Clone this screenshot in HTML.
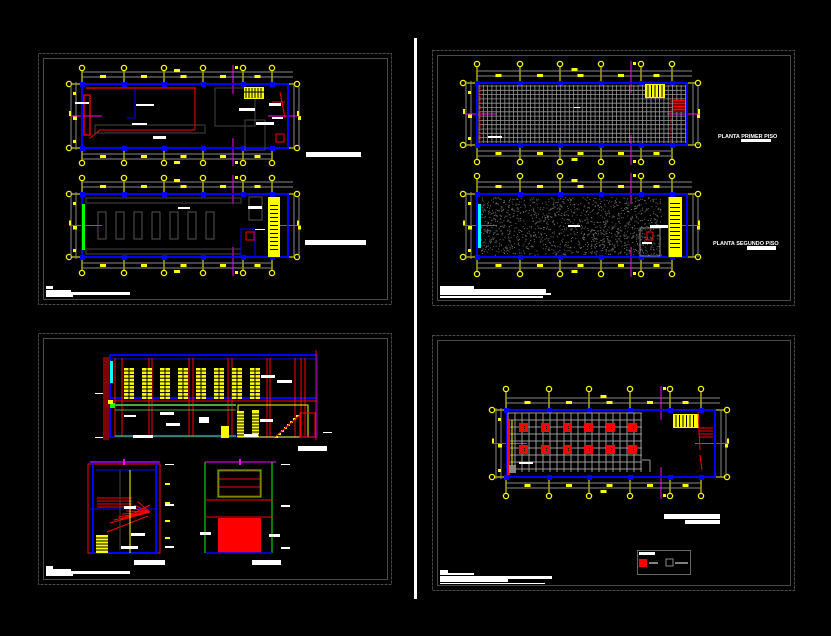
<!DOCTYPE html>
<html><head><meta charset="utf-8">
<style>
html,body{margin:0;padding:0;background:#000;}
svg{display:block;}
text{font-family:"Liberation Sans",sans-serif;}
</style></head>
<body>
<svg id="s" width="831" height="636" viewBox="0 0 831 636" xmlns="http://www.w3.org/2000/svg">
<rect width="831" height="636" fill="#000"/>
<g fill="none" stroke="#4a4a4a" stroke-width="1">
<rect x="38.5" y="53.5" width="353" height="251" stroke-dasharray="3,1"/>
<rect x="43.5" y="58.5" width="344" height="241"/>
<rect x="432.5" y="50.5" width="362" height="255" stroke-dasharray="3,1"/>
<rect x="437.5" y="55.5" width="353" height="245"/>
<rect x="38.5" y="333.5" width="353" height="251" stroke-dasharray="3,1"/>
<rect x="43.5" y="338.5" width="344" height="241"/>
<rect x="432.5" y="335.5" width="362" height="255" stroke-dasharray="3,1"/>
<rect x="437.5" y="340.5" width="353" height="245"/>
</g>
<rect x="414" y="38" width="3" height="561" fill="#fff"/>
<g id="g"></g>
<g fill="#fff">
<rect x="306" y="152" width="55" height="5"/>
<rect x="305" y="240" width="61" height="5"/>
<rect x="46" y="286" width="7" height="3"/><rect x="46" y="290" width="25" height="2"/><rect x="46" y="292" width="84" height="3"/><rect x="46" y="295" width="27" height="2"/>
<rect x="440" y="286" width="34" height="3"/><rect x="440" y="289" width="106" height="4"/><rect x="440" y="293" width="111" height="2"/><rect x="440" y="296" width="103" height="2"/>
<rect x="741" y="139" width="30" height="3"/><rect x="747" y="246" width="29" height="4"/>
<text x="718" y="138" font-size="5.5" font-weight="bold" fill="#fff">PLANTA PRIMER PISO</text>
<text x="713" y="245" font-size="5.5" font-weight="bold" fill="#fff">PLANTA SEGUNDO PISO</text>
<rect x="298" y="446" width="29" height="5"/><rect x="134" y="560" width="31" height="5"/><rect x="252" y="560" width="29" height="5"/>
<rect x="46" y="566" width="7" height="3"/><rect x="46" y="569" width="25" height="2"/><rect x="46" y="571" width="84" height="3"/><rect x="46" y="574" width="27" height="2"/>
<rect x="664" y="514" width="56" height="5"/><rect x="685" y="520" width="35" height="4"/>
<rect x="440" y="570" width="8" height="4"/><rect x="440" y="573" width="34" height="2"/><rect x="440" y="576" width="112" height="3"/><rect x="440" y="579" width="68" height="3"/><rect x="440" y="583" width="105" height="1"/>
</g>
</svg>
<script>
var G=document.getElementById('g'),h='';
function R(x,y,w,hh,f){h+='<rect x="'+x+'" y="'+y+'" width="'+w+'" height="'+hh+'" fill="'+f+'"/>';}
function L(x1,y1,x2,y2,c,w,d){h+='<line x1="'+x1+'" y1="'+y1+'" x2="'+x2+'" y2="'+y2+'" stroke="'+c+'" stroke-width="'+(w||1)+'"'+(d?' stroke-dasharray="'+d+'"':'')+'/>';}
function B(x,y,w,hh,c,sw){h+='<rect x="'+x+'" y="'+y+'" width="'+w+'" height="'+hh+'" fill="none" stroke="'+c+'" stroke-width="'+(sw||1)+'"/>';}
function C(x,y){h+='<circle cx="'+x+'" cy="'+y+'" r="2.6" fill="none" stroke="#ff0" stroke-width="1.3"/>';}
function plan(x0,y0,x1,y1,cols,ct,cb,lx,rx,magx){
  cols.forEach(function(c){L(c,ct+3,c,y0,'#ff0',1);L(c,y1,c,cb-3,'#ff0',1);C(c,ct);C(c,cb);});
  L(lx+3,y0,x0,y0,'#ff0',1);L(lx+3,y1,x0,y1,'#ff0',1);C(lx,y0);C(lx,y1);
  L(x1,y0,rx-3,y0,'#ff0',1);L(x1,y1,rx-3,y1,'#ff0',1);C(rx,y0);C(rx,y1);
  L(cols[0],y0-12,x1+5,y0-12,'#888');L(cols[0],y0-7,x1+5,y0-7,'#888');
  L(cols[0],y1+6,cols[cols.length-1],y1+6,'#888');L(cols[0],y1+11,cols[cols.length-1],y1+11,'#888');
  L(x0-6,y0-2,x0-6,y1+2,'#888');L(x0-11,y0-2,x0-11,y1+2,'#888');
  L(x1+6,y0,x1+6,y1,'#888');L(x1+11,y0+3,x1+11,y1,'#888');
  for(var i=0;i<cols.length-1;i++){var m=(cols[i]+cols[i+1])/2;R(m-3,y0-9,6,3,'#ff0');R(m-3,y1+7,6,3,'#ff0');}
  R((cols[0]+cols[cols.length-1])/2-3,y0-15,6,3,'#ff0');R((cols[0]+cols[cols.length-1])/2-3,y1+13,6,3,'#ff0');
  R(x0-9,(y0+y1)/2,4,4,'#ff0');R(x1+10,(y0+y1)/2,3,4,'#ff0');
  R(x0-9,y0+8,3,3,'#ff0');R(x0-9,y1-8,3,3,'#ff0');
  L(lx+2,(y0+y1)/2,x0+20,(y0+y1)/2,'#f0f',1);R(lx,(y0+y1)/2-5,2,5,'#ff0');
  L(x1-20,(y0+y1)/2,rx+2,(y0+y1)/2,'#f0f',1);R(rx,(y0+y1)/2-5,2,5,'#ff0');
  L(magx,ct-3,magx,y0+10,'#f0f',1);L(magx,y1-10,magx,cb+3,'#f0f',1);R(magx+2,ct-2,3,3,'#ff0');R(magx+2,cb-2,3,3,'#ff0');
  B(x0,y0,x1-x0,y1-y0,'#00f',2);
  cols.forEach(function(c){R(c-2,y0-2,5,5,'#00f');R(c-2,y1-2,5,5,'#00f');});
}
var c1=[82,124,164,203,243,272];
plan(82,84,288,148,c1,68,163,69,297,233);
L(86,88,196,88,'#f00',1.3);B(84,95,6,40,'#f00',1.3);L(90,138,100,130,'#f00');L(100,130,195,130,'#f00');L(195,130,195,88,'#f00');
L(135,90,135,118,'#00f');L(127,118,135,118,'#00f');
B(95,125,110,8,'#444');B(215,88,40,38,'#444');B(245,120,20,30,'#444');
R(244,87,20,12,'#ff0');for(var i=0;i<6;i++)L(246+i*3,88,246+i*3,98,'#000');L(244,92,264,92,'#000');
B(276,134,8,8,'#f00');L(272,102,285,102,'#f00');L(280,92,285,118,'#f00');
R(75,102,14,2,'#fff');R(136,104,18,2,'#fff');R(132,123,15,2,'#fff');R(153,136,13,3,'#fff');R(239,108,16,3,'#fff');R(256,122,18,3,'#fff');R(269,103,12,3,'#fff');R(272,117,11,2,'#fff');
plan(82,194,288,257,c1,178,273,69,297,233);
for(var i=0;i<7;i++)B(98+i*18,212,8,27,'#555');
B(86,198,155,5,'#444');B(86,249,155,5,'#444');
R(82,204,3,46,'#0f0');
B(249,197,13,23,'#555');B(241,229,14,28,'#00f');B(246,232,8,8,'#f00');
R(268,197,12,60,'#ff0');for(var i=0;i<12;i++)R(270,205+i*4,8,1,'#000');
R(178,207,12,2,'#fff');R(248,206,14,3,'#fff');R(255,229,10,1,'#fff');
var c2=[477,520,560,601,641,672];
plan(477,83,687,145,c2,64,162,463,698,631);
for(var x=479;x<686;x+=4.3)L(x,85,x,143,'#999',0.8);
for(var y=86;y<144;y+=4.3)L(479,y,686,y,'#999',0.8);
L(480,87,480,142,'#f00',1,'2,1');L(671,100,671,142,'#f00',1,'2,1');
R(645,84,20,14,'#ff0');for(var i=0;i<5;i++)L(648+i*3.5,85,648+i*3.5,97,'#000');
R(673,100,12,12,'#f00');for(var i=0;i<4;i++)L(673,102+i*3,685,102+i*3,'#000');
R(574,107,6,1,'#fff');R(488,136,14,2,'#fff');
plan(477,194,687,257,c2,176,274,463,698,631);
(function(){var s=7;function rnd(){s=(s*16807)%2147483647;return s/2147483647;}
 for(var i=0;i<1300;i++){var x=481+rnd()*180,y=197+rnd()*58;R(x.toFixed(1),y.toFixed(1),1,1,'#6e6e6e');}})();
R(478,204,3,44,'#0ff');
R(668,197,14,60,'#ff0');for(var i=0;i<12;i++)R(670,203+i*4,10,1,'#000');L(668,197,668,257,'#000');
B(640,228,20,28,'#888');B(647,232,6,8,'#f00');
R(568,225,12,2,'#fff');R(650,225,18,3,'#fff');R(642,242,10,2,'#fff');
var sx=110,sy=355,ex=317,ey=438;
L(sx,sy,ex,sy,'#00f',2);L(sx,sy+4,ex,sy+4,'#00f',1);L(sx,sy,sx,ey,'#00f',2);L(ex,sy,ex,ey,'#00f',2);
L(sx,398,ex,398,'#00f',2);L(sx,401,ex,401,'#f00',1);L(sx,437,ex,437,'#00f',1.5);
[115,122,149,152,189,193,228,232,267,270,295,301,305].forEach(function(x){L(x,358,x,437,'#f00',1);});
[104,106,108].forEach(function(x){L(x,357,x,440,'#f00',1);});
L(316,350,316,440,'#f00',1);
for(var i=0;i<8;i++){var wx=124+i*18;R(wx,368,10,31,'#ff0');L(wx+5,368,wx+5,399,'#000');for(var k=0;k<8;k++)L(wx,371+k*3.6,wx+10,371+k*3.6,'#000');}
L(115,405,236,405,'#4a4',2);L(115,410,236,410,'#4a4',1);L(115,436,236,436,'#4a4',1.5);
B(238,405,70,32,'#ff0',1);R(237,411,7,26,'#ff0');R(252,410,7,27,'#ff0');
for(var k=0;k<8;k++){L(237,414+k*3,244,414+k*3,'#000');L(252,414+k*3,259,414+k*3,'#000');}
R(221,426,8,12,'#ff0');
for(var i=0;i<8;i++)L(275+i*3,437-i*3,278+i*3,437-i*3,'#ff0',2);
L(275,437,300,415,'#f00');B(300,413,15,24,'#f00');
R(110,361,3,22,'#0ff');R(110,403,5,5,'#0f0');R(108,400,5,4,'#ff0');
R(261,375,14,3,'#fff');R(277,380,15,3,'#fff');R(124,415,12,2,'#fff');R(160,412,14,3,'#fff');R(166,423,14,3,'#fff');R(199,417,10,6,'#fff');R(260,419,13,3,'#fff');R(133,435,20,3,'#fff');R(244,434,14,3,'#fff');R(95,393,8,1,'#fff');R(95,437,8,1,'#fff');R(323,432,9,1,'#fff');
B(88,464,72,89,'#f00',1);L(93,462,93,553,'#00f',2);L(156,462,156,553,'#00f',2);
L(90,462,158,462,'#00f',1.5);L(96,470,155,470,'#00f',1);L(90,509,158,509,'#00f',1);L(90,553,158,553,'#00f',2);
L(90,462,160,462,'#f0f',1);L(124,459,124,465,'#f0f',2);
for(var i=0;i<4;i++)L(97,498+i*3,132,498+i*3,'#f00');
for(var i=0;i<8;i++)L(110+i*4,523-i*3,150,512,'#f00',1);
L(120,520,150,505,'#f00');L(107,532,148,516,'#f00');
R(96,535,12,18,'#ff0');for(var i=0;i<5;i++)L(96,538+i*3,108,538+i*3,'#000');
L(130,470,130,553,'#ff0');L(120,470,120,550,'#444');
R(124,506,12,3,'#fff');R(131,533,14,3,'#fff');R(121,546,17,3,'#fff');
R(165,483,5,2,'#ff0');R(165,502,5,2,'#ff0');R(165,520,5,2,'#ff0');R(165,537,5,2,'#ff0');
R(165,464,9,1,'#fff');R(165,504,9,2,'#fff');R(165,546,9,2,'#fff');
L(205,462,276,462,'#f0f',1);L(240,459,240,465,'#f0f',2);
L(205,462,205,553,'#0f0');L(272,462,272,553,'#0f0');
B(218,470,43,27,'#0f0',1);B(219,471,41,25,'#f00',1);L(219,479,260,479,'#f00');L(219,487,260,487,'#f00');
L(206,500,273,500,'#f00');L(206,517,273,517,'#f00');
R(218,518,43,35,'#f00');L(206,553,272,553,'#00f',1.5);
R(200,532,11,3,'#fff');R(269,534,11,3,'#fff');
R(281,464,9,1,'#fff');R(281,505,9,2,'#fff');R(281,547,9,2,'#fff');
var c4=[506,549,589,630,670,701];
plan(507,410,715,477,c4,389,496,492,727,661);
for(var x=508;x<=642;x+=7)L(x,413,x,472,'#999',1);
for(var y=413;y<=472;y+=7)L(508,y,642,y,'#999',1);
L(642,460,650,460,'#999');L(650,460,650,472,'#999');
[523,545,567,588,610,632].forEach(function(x){[427,449].forEach(function(y){R(x-4,y-4,9,9,'#f00');R(x+1,y-1,1,1,'#000');R(x+1,y+1,1,1,'#000');});});
R(507,420,3,55,'#f00');L(512,420,512,465,'#ff0');R(509,465,7,8,'#888');
R(673,414,26,14,'#ff0');for(var i=0;i<6;i++)L(676+i*3.5,415,676+i*3.5,427,'#000');
L(698,412,700,450,'#f00');for(var i=0;i<4;i++)L(699,428+i*3,713,428+i*3,'#f00');L(700,455,702,470,'#f00');
R(519,462,14,2,'#fff');
B(637.5,550.5,53,24,'#666');R(639,552,16,3,'#fff');R(639,559,8,8,'#f00');L(649,563,658,563,'#fff');B(666,559,7,7,'#888');L(675,563,688,563,'#fff');
G.innerHTML=h;
</script>
</body></html>
